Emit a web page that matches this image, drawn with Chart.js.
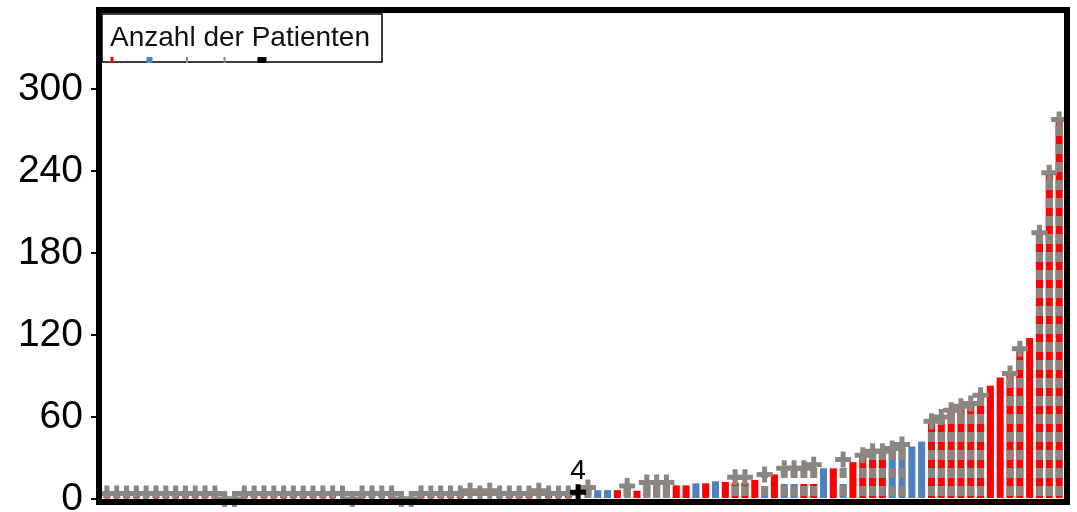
<!DOCTYPE html>
<html lang="de">
<head>
<meta charset="utf-8">
<title>Anzahl der Patienten</title>
<script src="https://cdn.jsdelivr.net/npm/chart.js@4.4.1/dist/chart.umd.min.js"></script>
<style>
  html, body { margin: 0; padding: 0; background: #fff; }
  #chart { display: block; }
</style>
</head>
<body>
<canvas id="chart" width="1077" height="512"></canvas>
<script>
const legendTitle = 'Anzahl der Patienten';
const yTicks = [0, 60, 120, 180, 240, 300];
const yMax = 356;

// coloured bar per group, sorted by size
const barValues = [
    2, 2, 2, 2, 2, 2, 2, 2, 2, 2, 2, 2,
    0, 0, 2, 2, 2, 2, 2, 2, 2, 2, 2, 2,
    0, 0, 2, 2, 2, 2, 0, 0, 2, 2, 2, 2,
    2, 0, 1, 0, 2, 2, 2, 2, 0, 4, 4.5, 5,
    0, 8.5, 6.5, 6.5, 6.5, 9.5, 6, 12, 12, 12, 10, 10,
    11.5, 11.5, 13, 12.5, 12, 12, 14, 9.5, 18, 11, 11, 11,
    11, 22.5, 22.5, 11, 27, 32, 35, 35, 37, 40, 38.5, 42,
    57, 60, 65, 68, 70, 76, 83, 89, 92, 110, 118, 195, 239, 278,
];

// r = red, b = blue, g = grey
const barColorKeys = (
    'rrrrbrrrrrrr' +
    'rrrrrrrrrrrr' +
    'rrrbbrrrrrrr' +
    'rrrrbrrrrrbr' +
    'rgbbrgrgggrr' +
    'brbrrrrbrbbr' +
    'rbrbrrrrbbbb' +
    'rrrrrrrrrrrrrr'
).split('');

// dashed grey bar with a cross on top
const grayValues = [
    4, 4, 4, 4, 4, 4, 4, 4, 4, 4, 4, 4,
    0, 0, 4, 4, 4, 4, 4, 4, 4, 4, 4, 4,
    4, 0, 4, 4, 4, 4, 0, 0, 4, 4, 4, 4,
    4, 6, 4, 6, 4, 4, 4, 4, 6, 4, 4, 4,
    null, 8.5, null, null, null, 9.5, null, 12, 12, 12, null, null,
    null, null, null, null, 16, 16, null, 18, null, 22.5, 22.5, 22.5,
    25, null, null, 29, null, 32, 35, 35, 37, 40, null, null,
    57, 60, 65, 68, 70, 76, null, null, 92, 110, null, 195, 239, 278,
];

const markerIndex = 48;
const markerValue = 5;
const markerLabel = '4';

const palette = { r: '#ff0000', b: '#4f81bd', g: '#8b8680' };
const grayColor = '#8b8680';
const legendColors = [palette.r, palette.b, grayColor, grayColor, '#000000'];

const categories = barValues.map((_, i) => String(i + 1));
const markerValues = categories.map((_, i) => (i === markerIndex ? markerValue : null));

Chart.defaults.font.family = "'Liberation Sans', Arial, sans-serif";

function makeDashPattern(color) {
    const tile = document.createElement('canvas');
    tile.width = 4;
    tile.height = 18;
    const tctx = tile.getContext('2d');
    tctx.fillStyle = color;
    tctx.fillRect(0, 0, 4, 10);
    return tctx.createPattern(tile, 'repeat');
}

const framePlugin = {
    id: 'frame',
    afterDatasetsDraw(chart) {
        const { ctx, chartArea } = chart;
        ctx.save();
        ctx.strokeStyle = '#000';
        ctx.lineWidth = 6;
        ctx.strokeRect(chartArea.left - 3, chartArea.top - 3,
            chartArea.right - chartArea.left + 6, chartArea.bottom - chartArea.top + 6);

        // value label above the black marker
        const meta = chart.getDatasetMeta(3);
        const point = meta.data[markerIndex];
        if (point) {
            ctx.fillStyle = '#000';
            ctx.font = "28px 'Liberation Sans', Arial, sans-serif";
            ctx.textAlign = 'center';
            ctx.textBaseline = 'bottom';
            ctx.fillText(markerLabel, point.x, point.y - 7);
        }
        ctx.restore();
    },
};

const legendPlugin = {
    id: 'boxLegend',
    afterDraw(chart) {
        const { ctx, chartArea } = chart;
        const left = chartArea.left;
        const top = chartArea.top + 1;
        const width = 280;
        const height = 48;
        ctx.save();
        ctx.fillStyle = '#fff';
        ctx.fillRect(left, top, width, height);
        ctx.strokeStyle = '#000';
        ctx.lineWidth = 1.5;
        ctx.strokeRect(left, top, width, height);
        ctx.fillStyle = '#111';
        ctx.font = "28px 'Liberation Sans', Arial, sans-serif";
        ctx.textBaseline = 'alphabetic';
        ctx.fillText(legendTitle, left + 8, top + 32);

        legendColors.forEach((color, k) => {
            const cx = left + 10 + k * 37.5;
            const w = k === 4 ? 9 : (k === 1 ? 6 : (k === 0 ? 3 : 2));
            ctx.fillStyle = color;
            ctx.fillRect(cx - w / 2, top + height - 5, w, 6);
        });
        ctx.restore();
    },
};

const ctx = document.querySelector('#chart').getContext('2d');
const chart = new Chart(ctx, {
    type: 'bar',
    data: {
        labels: categories,
        datasets: [
            {
                type: 'line',
                label: 'cross',
                data: grayValues,
                showLine: false,
                pointStyle: 'cross',
                pointRadius: 8,
                pointHoverRadius: 8,
                pointBorderWidth: 5,
                pointBorderColor: grayColor,
                pointBackgroundColor: grayColor,
                clip: false,
                order: 0,
            },
            {
                label: 'grey',
                data: grayValues,
                backgroundColor: makeDashPattern(grayColor),
                borderWidth: 0,
                grouped: false,
                barPercentage: 0.72,
                categoryPercentage: 1,
                order: 1,
            },
            {
                label: 'groups',
                data: barValues,
                backgroundColor: barColorKeys.map((k) => palette[k]),
                borderWidth: 0,
                grouped: false,
                barPercentage: 0.72,
                categoryPercentage: 1,
                order: 2,
            },
            {
                type: 'line',
                label: 'marker',
                data: markerValues,
                showLine: false,
                pointStyle: 'cross',
                pointRadius: 8,
                pointHoverRadius: 8,
                pointBorderWidth: 5,
                pointBorderColor: '#000',
                pointBackgroundColor: '#000',
                clip: false,
                order: -1,
            },
        ],
    },
    options: {
        responsive: false,
        animation: false,
        events: [],
        layout: { padding: { left: 0, right: 10, top: 12, bottom: 12 } },
        plugins: {
            legend: { display: false },
            tooltip: { enabled: false },
        },
        scales: {
            x: { display: false },
            y: {
                min: 0,
                max: yMax,
                border: { display: false },
                grid: {
                    drawOnChartArea: false,
                    drawTicks: true,
                    tickLength: 11,
                    color: '#000',
                    lineWidth: 2,
                },
                ticks: {
                    stepSize: 60,
                    color: '#000',
                    padding: 8,
                    font: { size: 39, lineHeight: 1 },
                },
                afterBuildTicks: (axis) => {
                    axis.ticks = yTicks.map((value) => ({ value }));
                },
                afterFit: (axis) => {
                    axis.width = 102;
                    axis.paddingTop = 0;
                    axis.paddingBottom = 0;
                },
            },
        },
    },
    plugins: [framePlugin, legendPlugin],
});
</script>
</body>
</html>
